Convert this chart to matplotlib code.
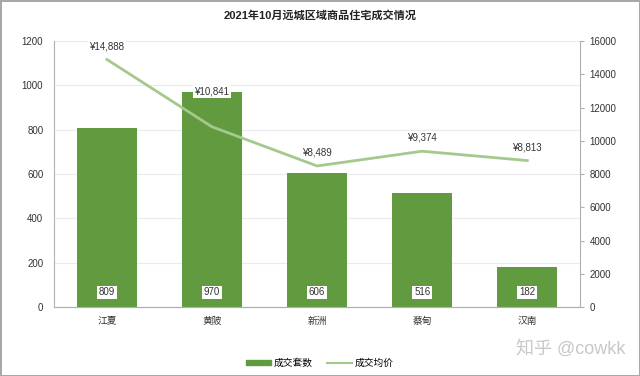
import numpy as np
import matplotlib.pyplot as plt

plt.rcParams['font.family'] = ['Liberation Sans', 'Noto Sans CJK SC', 'DejaVu Sans']

# data
districts = ["江夏", "黄陂", "新洲", "蔡甸", "汉南"]
deals = [809, 970, 606, 516, 182]
avg_price = [14888, 10841, 8489, 9374, 8813]

bar_color = "#619a3f"
line_color = "#a5c98d"

fig = plt.figure(figsize=(6.4, 3.76), dpi=100)
fig.patch.set_edgecolor("#a8a8a8")
fig.patch.set_linewidth(2)
ax = fig.add_axes([0.085, 0.183, 0.821, 0.708])
ax2 = ax.twinx()

x = np.arange(len(districts))
ax.bar(x, deals, width=0.57, color=bar_color, zorder=2)
ax.set_xlim(-0.5, len(districts) - 0.5)
ax.set_ylim(0, 1200)
ax.set_yticks(range(0, 1201, 200))
ax.set_xticks(x)
ax.set_xticklabels(districts)
ax.yaxis.grid(True, color="#ebebeb", linewidth=0.8, zorder=0)
ax.set_axisbelow(True)

for i, v in enumerate(deals):
    ax.annotate(str(v), (i, 0), xytext=(0, 7), textcoords="offset points",
                ha="center", va="bottom", fontsize=7, color="#333333",
                bbox=dict(boxstyle="square,pad=0.2", fc="white", ec="none"))

ax2.plot(x, avg_price, color=line_color, linewidth=2, zorder=3)
ax2.set_ylim(0, 16000)
ax2.set_yticks(range(0, 16001, 2000))
for i, v in enumerate(avg_price):
    dy = 22 if i == 1 else 6
    ax2.annotate("¥{:,}".format(v), (i, v), xytext=(0, dy), textcoords="offset points",
                 ha="center", va="bottom", fontsize=7, color="#333333",
                 bbox=dict(boxstyle="square,pad=0.15", fc="white", ec="none"))

for a in (ax, ax2):
    a.tick_params(labelsize=7, colors="#333333", length=3)
    a.spines["top"].set_visible(False)
    for s in ("left", "right", "bottom"):
        a.spines[s].set_color("#b0b0b0")
ax.tick_params(axis="y", length=0, pad=8)
ax.tick_params(axis="x", length=0, pad=6)
ax2.tick_params(axis="y", color="#b0b0b0", length=3, pad=4)
ax2.spines["left"].set_visible(False)
ax.spines["right"].set_visible(False)

fig.text(0.5, 0.958, "2021年10月远城区域商品住宅成交情况", ha="center", va="center",
         fontsize=8, fontweight="bold", color="#222222")

h1 = plt.Rectangle((0, 0), 1, 1, color=bar_color)
h2 = plt.Line2D([0], [0], color=line_color, linewidth=1.5)
fig.legend([h1, h2], ["成交套数", "成交均价"], loc="center", bbox_to_anchor=(0.5, 0.035),
           ncol=2, frameon=False, fontsize=7, handlelength=2.5, handleheight=0.5,
           columnspacing=1.5, handletextpad=0.3)

fig.text(0.977, 0.072, "知乎 @cowkk", ha="right", va="center", fontsize=13, color="#c8c8c8")

fig.savefig("out.png", dpi=100)
